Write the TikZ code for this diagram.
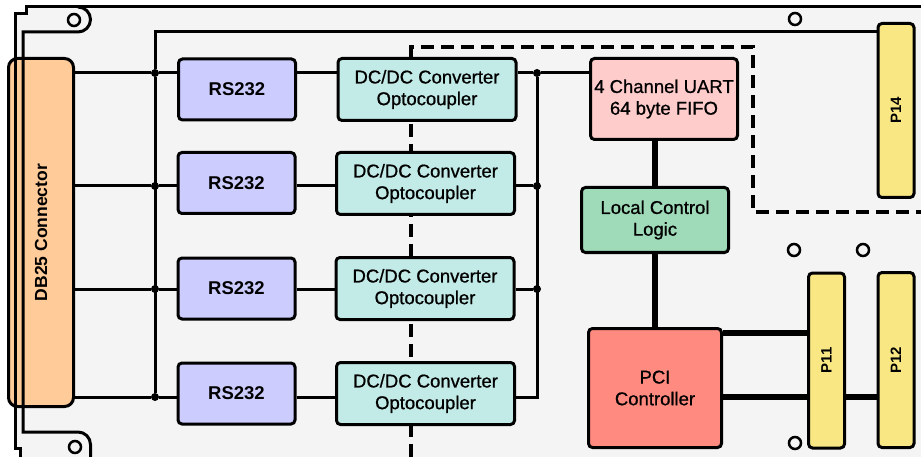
\documentclass[tikz,border=0pt]{standalone}
\usepackage{fontspec}
\setmainfont{Liberation Sans}
\newfontfamily\boxfont[FakeBold=0.8]{Liberation Sans}
\usepackage{tikz}
\definecolor{boardgray}{HTML}{F4F4F4}
\definecolor{rsfill}{HTML}{CCCCFF}
\definecolor{dcfill}{HTML}{C2EAE6}
\definecolor{uartfill}{HTML}{FFCCCC}
\definecolor{lclfill}{HTML}{9FDBB9}
\definecolor{pcifill}{HTML}{FF8A80}
\definecolor{pfill}{HTML}{F9E784}
\definecolor{dbfill}{HTML}{FFCC99}
\begin{document}
\begin{tikzpicture}[x=1pt,y=1pt]
                \tikzstyle{every node}+=[inner sep=0pt]
                \tikzstyle{blk}=[draw=black,line width=3pt,rounded corners=4pt,align=center,font=\boxfont\fontsize{18.5}{21.7}\selectfont]
                \tikzstyle{rsblk}=[blk,fill=rsfill,minimum width=117pt,minimum height=61pt,font=\fontsize{18.5}{21.7}\selectfont\bfseries]
                \tikzstyle{dcblk}=[blk,fill=dcfill,minimum width=178pt,minimum height=62pt]
                \tikzstyle{pblk}=[blk,fill=pfill,minimum width=36pt,minimum height=175pt,font=\fontsize{15}{18}\selectfont\bfseries]
                \tikzstyle{wire}=[black,line width=3pt]
                \tikzstyle{bus}=[black,line width=6.5pt]
                \tikzstyle{board}=[black,line width=3pt]
                \tikzstyle{zone}=[black,line width=3.5pt,dash pattern=on 13pt off 7pt]
                \tikzstyle{dot}=[circle,fill=black,minimum size=8pt]
                \tikzstyle{hole}=[circle,draw=black,fill=boardgray,line width=2.5pt,minimum size=12pt]
                \useasboundingbox (0,0) rectangle (921,-457);
                \fill [white] (0,0) rectangle (921,-457);
                \fill [boardgray] (26,-7) -- (921,-7) -- (921,-457) -- (20,-457) -- (20,-448) -- (15,-448) -- (15,-14) -- (26,-14) -- cycle;
                \draw [zone] (411,-457) -- (411,-47) -- (753,-47) -- (753,-212) -- (921,-212);
                \node [blk,fill=dbfill,minimum width=65pt,minimum height=348pt,rounded corners=9pt,font=\fontsize{17.5}{20}\selectfont\bfseries] (db25) at (41,-232.5) {\rotatebox{90}{DB25 Connector}};
                \draw [board] (921,-7) -- (26,-7) -- (26,-14) -- (15,-14) -- (15,-448) -- (20,-448) -- (20,-457);
                \draw [board] (78,-7) arc (90:-90:12.5) -- (23,-32) -- (23,-432) -- (78,-432) arc (90:0:12.5) -- (90.5,-457);
                \node [hole] (h1) at (74,-20) {};
                \node [hole] (h2) at (75,-447) {};
                \node [hole] (h3) at (795,-19) {};
                \node [hole] (h4) at (794,-250) {};
                \node [hole] (h5) at (863,-250) {};
                \node [hole] (h6) at (795,-443) {};
                \node [rsblk] (rs1) at (237,-89.5) {RS232};
                \node [rsblk] (rs2) at (236.5,-183) {RS232};
                \node [rsblk] (rs3) at (236.5,-288.5) {RS232};
                \node [rsblk] (rs4) at (236.5,-393.5) {RS232};
                \node [dcblk] (dc1) at (427,-89.5) {DC/DC Converter\\Optocoupler};
                \node [dcblk] (dc2) at (425.5,-183.5) {DC/DC Converter\\Optocoupler};
                \node [dcblk] (dc3) at (425,-288.5) {DC/DC Converter\\Optocoupler};
                \node [dcblk] (dc4) at (425.5,-393.5) {DC/DC Converter\\Optocoupler};
                \node [blk,fill=uartfill,minimum width=147pt,minimum height=81pt] (uart) at (664,-99) {4 Channel UART\\64 byte FIFO};
                \node [blk,fill=lclfill,minimum width=147pt,minimum height=65pt] (lcl) at (655,-220) {Local Control\\Logic};
                \node [blk,fill=pcifill,minimum width=133pt,minimum height=119pt] (pci) at (655,-388) {PCI\\Controller};
                \node [pblk] (p11) at (826.5,-360.5) {\rotatebox{90}{P11}};
                \node [pblk] (p12) at (896,-360) {\rotatebox{90}{P12}};
                \node [pblk,minimum height=174pt] (p14) at (896,-110.5) {\rotatebox{90}{P14}};
                \coordinate (fr) at (155,-32);
                \coordinate (k4) at (537,-397);
                \node [dot] (j1) at (155,-73) {};
                \node [dot] (j2) at (155,-186) {};
                \node [dot] (j3) at (155,-289) {};
                \node [dot] (j4) at (155,-397) {};
                \node [dot] (k1) at (537,-73) {};
                \node [dot] (k2) at (537,-186) {};
                \node [dot] (k3) at (537,-289) {};
                \draw [wire] (db25.east |- j1) -- (j1) -- (rs1.west |- j1);
                \draw [wire] (db25.east |- j2) -- (j2) -- (rs2.west |- j2);
                \draw [wire] (db25.east |- j3) -- (j3) -- (rs3.west |- j3);
                \draw [wire] (db25.east |- j4) -- (j4) -- (rs4.west |- j4);
                \draw [wire] (rs1.east |- j1) -- (dc1.west |- j1);
                \draw [wire] (rs2.east |- j2) -- (dc2.west |- j2);
                \draw [wire] (rs3.east |- j3) -- (dc3.west |- j3);
                \draw [wire] (rs4.east |- j4) -- (dc4.west |- j4);
                \draw [wire] (dc1.east |- k1) -- (k1) -- (uart.west |- k1);
                \draw [wire] (dc2.east |- k2) -- (k2);
                \draw [wire] (dc3.east |- k3) -- (k3);
                \draw [wire] (dc4.east |- k4) -- (k4) -- (k1);
                \draw [wire] (j4) -- (j1) -- (fr) -- (fr -| p14.west);
                \coordinate (b1) at (0,-333);
                \coordinate (b2) at (0,-397);
                \draw [bus] (uart.south -| lcl.north) -- (lcl.north);
                \draw [bus] (lcl.south) -- (pci.north);
                \draw [bus] (pci.east |- b1) -- (p11.west |- b1);
                \draw [bus] (pci.east |- b2) -- (p11.west |- b2);
                \draw [bus] (p11.east |- b2) -- (p12.west |- b2);
            \end{tikzpicture}
\end{document}
